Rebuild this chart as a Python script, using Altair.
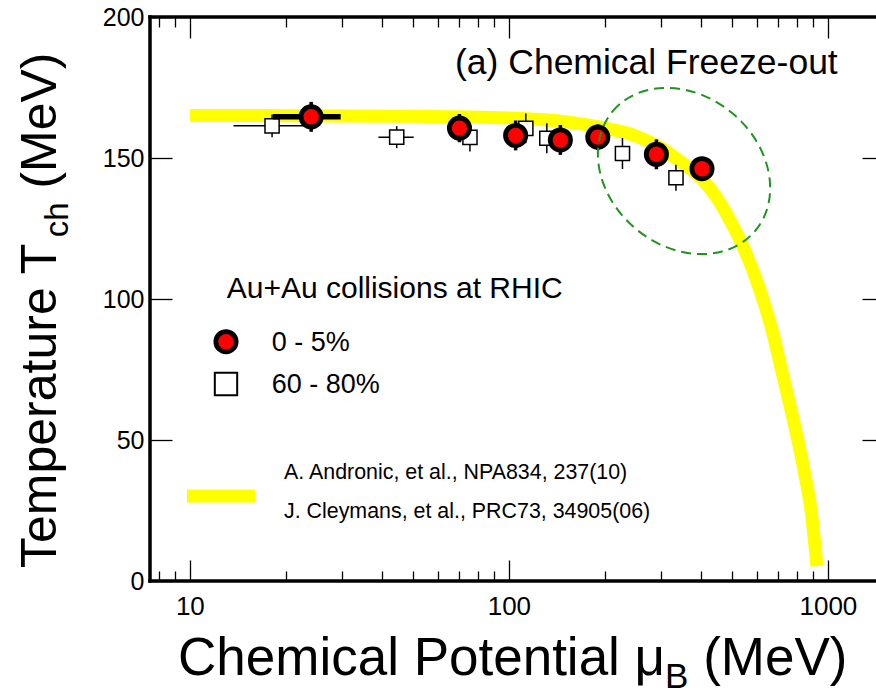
import altair as alt
import pandas as pd

FONT = "Liberation Sans"

# Au+Au 0-5% central: chemical freeze-out temperature vs baryon chemical potential
central_mu = [24, 70, 105, 145, 190, 290, 403]
central_T = [164.6, 160.6, 158.0, 156.4, 157.4, 151.3, 146.2]
central_dT = [5.3, 5.0, 5.3, 5.3, 4.5, 5.3, 4.0]
central_mu_lo = [18.2, 70, 105, 145, 190, 290, 403]
central_mu_hi = [29.7, 70, 105, 145, 190, 290, 403]

# Au+Au 60-80% peripheral
periph_mu = [18.1, 44.5, 75.5, 113, 131.5, 227, 334]
periph_T = [161.4, 157.4, 157.3, 160.5, 157.0, 151.6, 143.0]
periph_dT = [4.0, 3.9, 5.0, 5.3, 5.3, 5.5, 4.6]
periph_mu_lo = [13.7, 39.0, 75.5, 113, 131.5, 227, 334]
periph_mu_hi = [22.8, 50.3, 79.0, 113, 131.5, 227, 334]

# statistical-model freeze-out line
curve_mu = [10, 20, 50, 100, 150, 200, 250, 300, 346, 400, 449, 493, 534,
            578, 621, 668, 712, 760, 805, 847, 885, 907, 924]
curve_T = [165.1, 165.0, 164.8, 164.2, 162.9, 160.6, 157.8, 153.5, 148.6,
           142.9, 135.8, 128.0, 120.2, 111.0, 101.0, 89.0, 76.0, 62.4, 50.0,
           37.6, 25.2, 14.5, 5.3]

# highlighted region (centre of the dashed ellipse)
ring_mu = [354]
ring_T = [145.4]

x_major = [10, 100, 1000]
x_minor = [8, 9, 20, 30, 40, 50, 60, 70, 80, 90,
           200, 300, 400, 500, 600, 700, 800, 900]
y_ticks = [0, 50, 100, 150, 200]
x_domain = [7.5, 1415]
y_domain = [0, 200]

W, H = 726, 564
PAD = {"left": 150, "top": 17, "right": 0, "bottom": 117}

central = pd.DataFrame({
    "mu": central_mu, "T": central_T,
    "T_lo": [t - e for t, e in zip(central_T, central_dT)],
    "T_hi": [t + e for t, e in zip(central_T, central_dT)],
    "mu_lo": central_mu_lo, "mu_hi": central_mu_hi,
})
periph = pd.DataFrame({
    "mu": periph_mu, "T": periph_T,
    "T_lo": [t - e for t, e in zip(periph_T, periph_dT)],
    "T_hi": [t + e for t, e in zip(periph_T, periph_dT)],
    "mu_lo": periph_mu_lo, "mu_hi": periph_mu_hi,
})
curve = pd.DataFrame({"mu": curve_mu, "T": curve_T})
ring = pd.DataFrame({"mu": ring_mu, "T": ring_T})
one = pd.DataFrame({"k": [0]})

xs = alt.Scale(type="log", domain=x_domain)
ys = alt.Scale(domain=y_domain)

# inward ticks: axis line pulled inside the frame, ticks pointing back out
major_test = " || ".join(f"datum.value == {v}" for v in x_major)
x_tick_dash = {"condition": {"test": major_test, "value": [30, 0]},
               "value": [0, 11, 10]}

x_bottom = alt.Axis(
    orient="bottom", values=x_major + x_minor, title=None, domain=False,
    grid=False, offset=-21, tickSize=21, tickWidth=1.3, tickColor="black",
    tickDash=x_tick_dash,
    labelExpr=f"({major_test}) ? format(datum.value, 'd') : ''",
    labelFont=FONT, labelFontSize=26, labelColor="black", labelPadding=12,
    labelOverlap=False, labelFlush=False,
)
x_top = alt.Axis(
    orient="top", values=x_major + x_minor, title=None, domain=False,
    grid=False, offset=-21, tickSize=21, tickWidth=1.3, tickColor="black",
    tickDash=x_tick_dash, labels=False,
)
y_left = alt.Axis(
    orient="left", values=y_ticks, title=None, domain=False, grid=False,
    offset=-22, tickSize=22, tickWidth=1.3, tickColor="black",
    labelFont=FONT, labelFontSize=25, labelColor="black", labelPadding=6,
)
y_right = alt.Axis(
    orient="right", values=[50, 100, 150], title=None, domain=False,
    grid=False, offset=-14, tickSize=14, tickWidth=1.3, tickColor="black",
    labels=False,
)

freeze_line = alt.Chart(curve).mark_line(
    color="#ffff00", strokeWidth=13, interpolate="monotone", strokeCap="butt"
).encode(
    x=alt.X("mu:Q", scale=xs, axis=x_bottom),
    y=alt.Y("T:Q", scale=ys, axis=y_left),
)

periph_vbar = alt.Chart(periph).mark_rule(color="black", strokeWidth=1.5).encode(
    x=alt.X("mu:Q", scale=xs, axis=None),
    y=alt.Y("T_lo:Q", scale=ys, axis=None), y2="T_hi:Q",
)
periph_hbar = alt.Chart(periph).mark_rule(color="black", strokeWidth=1.5).encode(
    x=alt.X("mu_lo:Q", scale=xs, axis=None), x2="mu_hi:Q",
    y=alt.Y("T:Q", scale=ys, axis=None),
)
periph_pts = alt.Chart(periph).mark_point(
    shape="square", size=200, filled=True, color="white", stroke="black",
    strokeWidth=1.5, opacity=1,
).encode(
    x=alt.X("mu:Q", scale=xs, axis=x_top),
    y=alt.Y("T:Q", scale=ys, axis=y_right),
)

central_vbar = alt.Chart(central).mark_rule(color="black", strokeWidth=3.5).encode(
    x=alt.X("mu:Q", scale=xs, axis=None),
    y=alt.Y("T_lo:Q", scale=ys, axis=None), y2="T_hi:Q",
)
central_hbar = alt.Chart(central).mark_rule(color="black", strokeWidth=5.5).encode(
    x=alt.X("mu_lo:Q", scale=xs, axis=None), x2="mu_hi:Q",
    y=alt.Y("T:Q", scale=ys, axis=None),
)
central_pts = alt.Chart(central).mark_point(
    shape="circle", size=410, filled=True, color="#ff0000", stroke="black",
    strokeWidth=4.8, opacity=1,
).encode(
    x=alt.X("mu:Q", scale=xs, axis=None),
    y=alt.Y("T:Q", scale=ys, axis=None),
)

# dashed ellipse around the high-mu_B points
ELLIPSE = "M -1 0 A 1 0.81 0 1 1 1 0 A 1 0.81 0 1 1 -1 0 Z"
ring_mark = alt.Chart(ring).mark_point(
    shape=ELLIPSE, size=186 * 186, angle=40, filled=False, color="#1f951f",
    strokeWidth=2, strokeDash=[10, 6], opacity=1,
).encode(
    x=alt.X("mu:Q", scale=xs, axis=None),
    y=alt.Y("T:Q", scale=ys, axis=None),
)


def text(s, px, py, size, angle=0, align="left"):
    return alt.Chart(one).mark_text(
        text=s, font=FONT, fontSize=size, angle=angle, align=align,
        baseline="alphabetic", color="black",
    ).encode(x=alt.value(px), y=alt.value(py))


def symbol(shape, px, py, size, fill, sw):
    return alt.Chart(one).mark_point(
        shape=shape, size=size, filled=True, color=fill, stroke="black",
        strokeWidth=sw, opacity=1,
    ).encode(x=alt.value(px), y=alt.value(py))


# Arial/Liberation Sans advance widths (em) for composing sub-scripted titles
ADV = {"T": .611, "e": .556, "m": .833, "p": .556, "r": .333, "a": .556,
       "t": .278, "u": .556, " ": .278, "c": .5, "h": .556, "(": .333,
       "M": .833, "V": .667, ")": .333, "C": .722, "i": .222, "l": .222,
       "P": .667, "o": .556, "n": .556, "μ": .576, "B": .667}


def width(s, size):
    return sum(ADV.get(ch, .556) for ch in s) * size


# x-axis title: Chemical Potential mu_B (MeV)
XT, XS = 53, 35
xt_x, xt_y = 28, 658
xa, xb, xc = "Chemical Potential μ", "B", "(MeV)"
x_title = [
    text(xa, xt_x, xt_y, XT),
    text(xb, xt_x + width(xa, XT), xt_y + 13, XS),
    text(xc, xt_x + width(xa, XT) + width(xb, XS) + width(" ", XT), xt_y, XT),
]

# y-axis title: Temperature T_ch (MeV), written bottom-to-top
YT, YS = 50, 33
yt_x, yt_y = -94, 551
ya, yb, yc = "Temperature T", "ch", "(MeV)"
y_title = [
    text(ya, yt_x, yt_y, YT, angle=270),
    text(yb, yt_x + 12, yt_y - width(ya, YT), YS, angle=270),
    text(yc, yt_x, yt_y - width(ya, YT) - width(yb, YS) - width(" ", YT), YT,
         angle=270),
]

legend = [
    text("Au+Au collisions at RHIC", 76.7, 281.3, 30),
    symbol("circle", 76, 324.7, 410, "#ff0000", 4.8),
    text("0 - 5%", 121.7, 334, 27),
    symbol("square", 76, 367, 500, "white", 2),
    text("60 - 80%", 121.7, 376, 27),
    alt.Chart(one).mark_rule(color="#ffff00", strokeWidth=13).encode(
        x=alt.value(37), x2=alt.value(105), y=alt.value(479)),
    text("A. Andronic, et al., NPA834, 237(10)", 134, 462, 21.4),
    text("J. Cleymans, et al., PRC73, 34905(06)", 134, 501, 21.4),
    text("(a) Chemical Freeze-out", 305, 57, 35.5),
]

# frame: left, top and bottom edges
frame = [
    alt.Chart(one).mark_rule(color="black", strokeWidth=3.5, strokeCap="square").encode(
        x=alt.value(0), y=alt.value(0), y2=alt.value(H)),
    alt.Chart(one).mark_rule(color="black", strokeWidth=3.5, strokeCap="square").encode(
        x=alt.value(0), x2=alt.value(W), y=alt.value(0)),
    alt.Chart(one).mark_rule(color="black", strokeWidth=3.5, strokeCap="square").encode(
        x=alt.value(0), x2=alt.value(W), y=alt.value(H)),
]

chart = alt.layer(
    freeze_line,
    periph_vbar, periph_hbar, periph_pts,
    central_vbar, central_hbar, central_pts,
    ring_mark,
    *legend, *x_title, *y_title, *frame,
).resolve_axis(
    x="independent", y="independent"
).properties(
    width=W, height=H, padding=PAD,
    autosize=alt.AutoSizeParams(type="none"),
    background="white",
).configure_view(stroke=None)

chart.save("out.html", embed_options={"renderer": "svg", "actions": False})
